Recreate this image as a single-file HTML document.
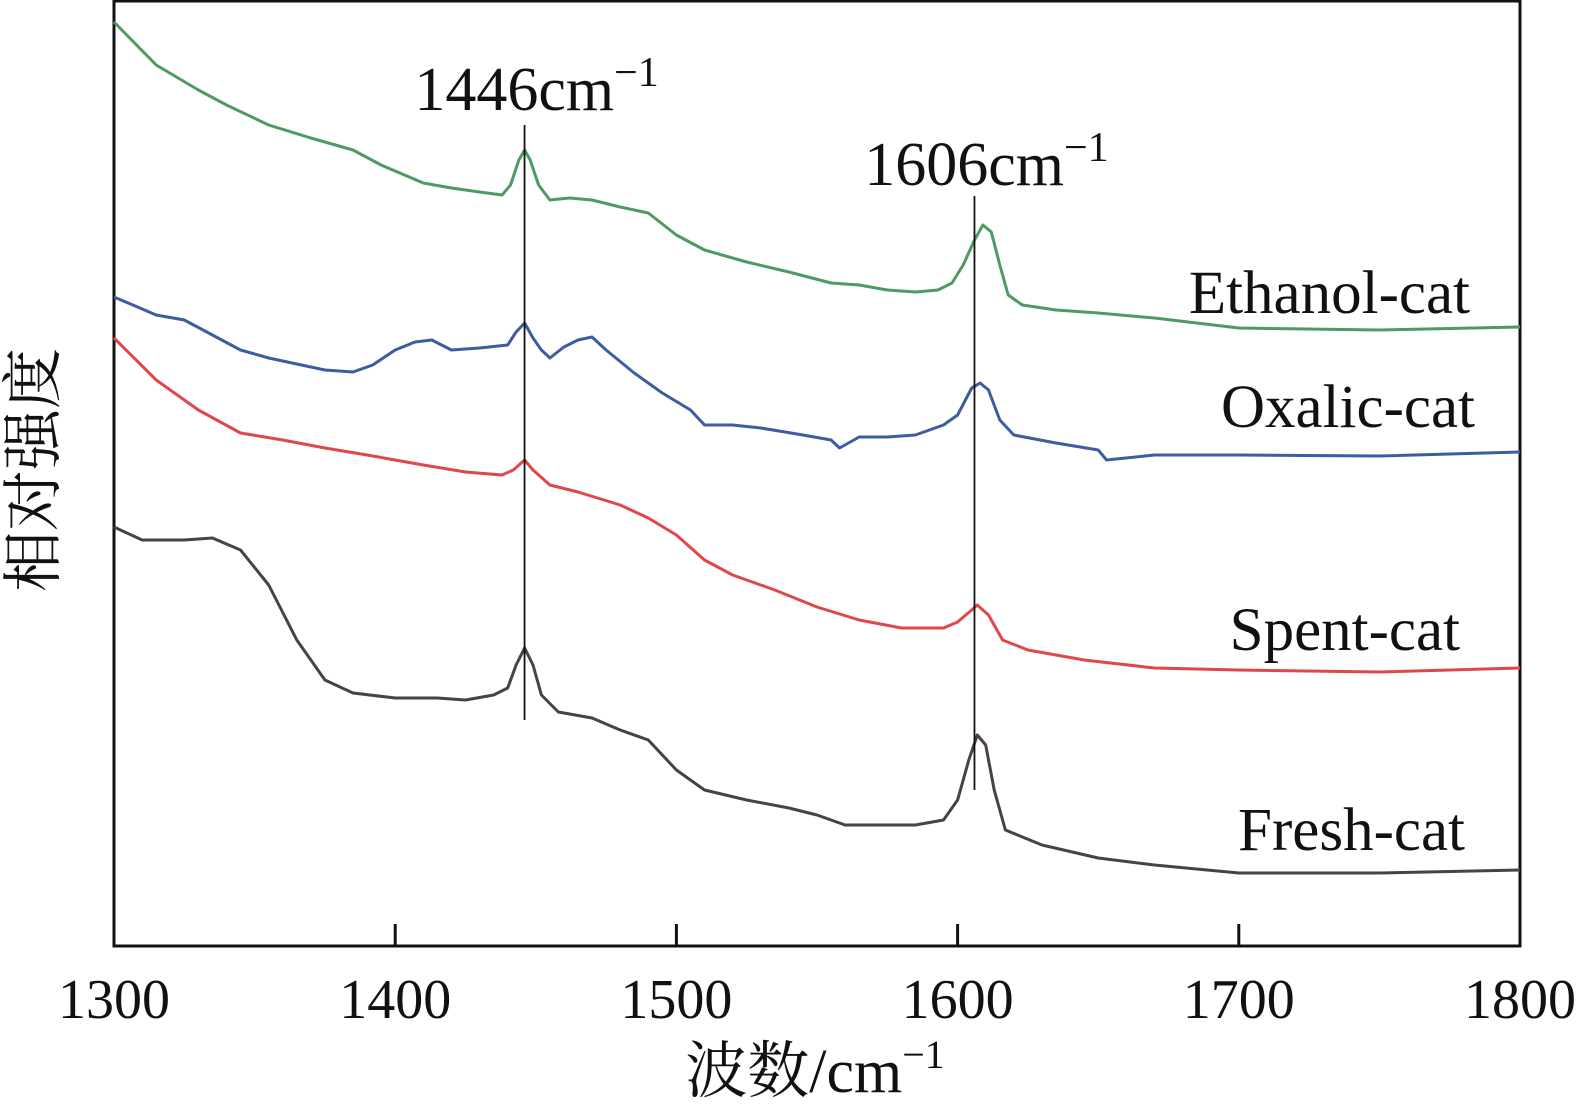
<!DOCTYPE html>
<html><head><meta charset="utf-8"><style>
html,body{margin:0;padding:0;background:#fff;}
svg{display:block;font-family:"Liberation Serif","Noto Serif CJK SC",serif;}
</style></head><body>
<svg id="chart" width="1579" height="1118" viewBox="0 0 1579 1118">
<rect x="114" y="1" width="1406" height="945" fill="none" stroke="#111" stroke-width="3"/>
<g id="ticks"></g>
<g id="series"></g>
<g id="annot"></g>
<text x="815" y="1092" font-size="62" text-anchor="middle" fill="#111" font-family="'Liberation Serif','Noto Serif CJK SC',serif">波数/cm<tspan dy="-24" font-size="40">−1</tspan></text>
<text transform="translate(54,470) rotate(-90)" font-size="61" text-anchor="middle" fill="#111" font-family="'Noto Serif CJK SC','Noto Sans CJK SC',serif">相对强度</text>
</svg>
<script>
const xTicks=[1300,1400,1500,1600,1700,1800];
const peakPositions=[1446,1606];
const seriesNames=["Ethanol-cat","Oxalic-cat","Spent-cat","Fresh-cat"];
const ethanolX=[1300,1315,1330,1340,1355,1370,1385,1395,1410,1420,1430,1438,1441,1444,1446,1448,1451,1455,1462,1470,1480,1490,1500,1510,1525,1540,1555,1565,1575,1585,1593,1598,1602,1606,1609,1612,1615,1618,1623,1635,1650,1670,1700,1750,1800];
const ethanolY=[918,875,850,835,815,802,790,775,757,752,748,745,755,780,790,780,755,740,742,740,733,727,705,690,678,668,657,655,650,648,650,657,675,700,715,708,675,645,635,630,627,622,612,610,613];
const oxalicX=[1300,1315,1325,1335,1345,1355,1365,1375,1385,1392,1400,1407,1413,1420,1430,1440,1443,1446,1449,1452,1455,1460,1465,1470,1475,1485,1495,1505,1510,1520,1530,1545,1555,1558,1565,1575,1585,1595,1600,1605,1608,1611,1615,1620,1635,1650,1653,1670,1700,1750,1800];
const oxalicY=[643,625,620,605,590,582,576,570,568,575,590,598,600,590,592,595,608,617,602,590,582,593,600,603,590,567,547,530,515,515,512,505,500,492,503,503,505,515,525,552,557,550,520,505,497,490,480,485,485,484,488];
const spentX=[1300,1315,1330,1345,1360,1375,1390,1410,1425,1438,1442,1446,1449,1455,1465,1480,1490,1500,1510,1520,1535,1550,1565,1580,1595,1600,1605,1607,1611,1616,1625,1645,1670,1700,1750,1800];
const spentY=[602,560,530,507,500,492,485,475,468,465,470,480,470,455,448,435,422,405,380,365,350,333,320,312,312,318,330,335,325,300,290,280,272,270,268,272];
const freshX=[1300,1310,1325,1335,1345,1355,1365,1375,1385,1400,1415,1425,1435,1440,1443,1446,1449,1452,1458,1470,1480,1490,1500,1510,1525,1540,1550,1560,1570,1585,1595,1600,1604,1607,1610,1613,1617,1630,1650,1670,1700,1750,1800];
const freshY=[413,400,400,402,390,355,300,260,247,242,242,240,245,252,275,292,275,245,228,222,210,200,170,150,140,132,125,115,115,115,120,140,180,205,195,150,110,95,82,75,67,67,70];

const NS="http://www.w3.org/2000/svg";
const X0=114,X1=1520,BOTTOM=946;
function xs(v){return X0+(v-1300)/(1800-1300)*(X1-X0);}
function ys(v){return 940-v;}
const tg=document.getElementById('ticks');
xTicks.forEach(t=>{
  const l=document.createElementNS(NS,'line');
  l.setAttribute('x1',xs(t));l.setAttribute('x2',xs(t));l.setAttribute('y1',BOTTOM);l.setAttribute('y2',BOTTOM-22);
  l.setAttribute('stroke','#111');l.setAttribute('stroke-width','3');
  
  
  tg.appendChild(l);
  const tx=document.createElementNS(NS,'text');
  tx.setAttribute('x',xs(t));tx.setAttribute('y',1018);tx.setAttribute('font-size','56');tx.setAttribute('text-anchor','middle');tx.setAttribute('fill','#111');
  tx.textContent=t;
  
  
  tg.appendChild(tx);
});
const sg=document.getElementById('series');
const sets=[[ethanolX,ethanolY,'#4e9a62',0],[oxalicX,oxalicY,'#3e5ca0',1],[spentX,spentY,'#e0474a',2],[freshX,freshY,'#4b4141',3]];
const labelPos=[[1470,313],[1475,427],[1460,650],[1465,850]];
sets.forEach(([xa,ya,c,i])=>{
  const p=document.createElementNS(NS,'path');
  let d='';xa.forEach((x,k)=>{d+=(k?'L':'M')+xs(x).toFixed(1)+','+ys(ya[k]).toFixed(1);});
  p.setAttribute('d',d);p.setAttribute('fill','none');p.setAttribute('stroke',c);p.setAttribute('stroke-width','3');p.setAttribute('stroke-linejoin','round');
  
  
  sg.appendChild(p);
  const t=document.createElementNS(NS,'text');
  t.setAttribute('x',labelPos[i][0]);t.setAttribute('y',labelPos[i][1]);t.setAttribute('font-size','61');t.setAttribute('text-anchor','end');t.setAttribute('fill','#111');
  t.textContent=seriesNames[i];
  
  
  sg.appendChild(t);
});
const ag=document.getElementById('annot');
const lineSpans=[[125,720],[196,790]];
const labY=[110,185];
peakPositions.forEach((pk,i)=>{
  const l=document.createElementNS(NS,'line');
  l.setAttribute('x1',xs(pk));l.setAttribute('x2',xs(pk));l.setAttribute('y1',lineSpans[i][0]);l.setAttribute('y2',lineSpans[i][1]);
  l.setAttribute('stroke','#111');l.setAttribute('stroke-width','1.8');
  
  
  ag.appendChild(l);
  const t=document.createElementNS(NS,'text');
  t.setAttribute('x',xs(pk)+12);t.setAttribute('y',labY[i]);t.setAttribute('font-size','62');t.setAttribute('text-anchor','middle');t.setAttribute('fill','#111');
  t.innerHTML=pk+'cm<tspan dy="-24" font-size="42">−1</tspan>';
  
  
  ag.appendChild(t);
});
</script>
</body></html>
